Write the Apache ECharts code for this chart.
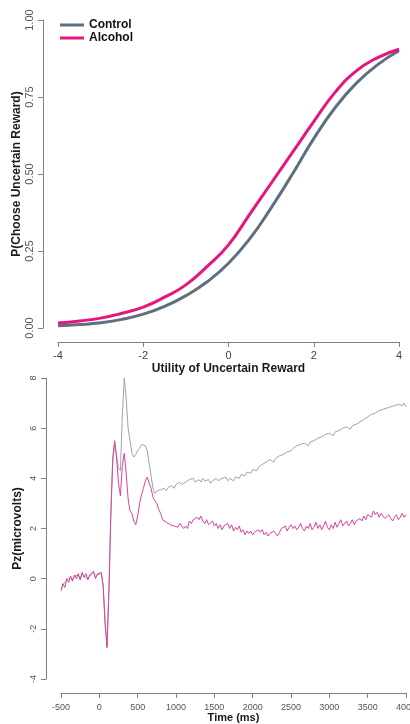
<!DOCTYPE html>
<html>
<head>
<meta charset="utf-8">
<script src="https://cdn.jsdelivr.net/npm/echarts@6/dist/echarts.min.js"></script>
<style>
  html, body { margin: 0; padding: 0; background: #fff; }
  #chart { width: 410px; height: 724px; }
</style>
</head>
<body>
<div id="chart"></div>
<script>
// top panel: choice curves
const UTILITY = [-4, -3.5, -3, -2.5, -2, -1.5, -1, -0.5, 0, 0.5, 1, 1.5, 2, 2.5, 3, 3.5, 4];
const CONTROL_P = [0.007, 0.011, 0.017, 0.028, 0.045, 0.07, 0.105, 0.15, 0.21, 0.29, 0.39, 0.5, 0.615, 0.715, 0.795, 0.855, 0.9];
const ALCOHOL_P = [0.016, 0.023, 0.032, 0.048, 0.068, 0.1, 0.14, 0.2, 0.27, 0.37, 0.47, 0.57, 0.67, 0.765, 0.835, 0.878, 0.905];

// bottom panel: Pz waveform
const TIME_MS = [
  -500, -475, -450, -425, -400, -375, -350, -325, -300, -275, -250, -225, -200, -175, -150, -125, -100, -75, -50, -25,
  0, 25, 50, 75, 100, 125, 150, 175, 200, 225, 250, 275, 300, 325, 350, 375, 400, 425, 450, 475,
  500, 525, 550, 575, 600, 625, 650, 675, 700, 725, 750, 775, 800, 825, 850, 875, 900, 925, 950, 975,
  1000, 1025, 1050, 1075, 1100, 1125, 1150, 1175, 1200, 1225, 1250, 1275, 1300, 1325, 1350, 1375, 1400, 1425, 1450, 1475,
  1500, 1525, 1550, 1575, 1600, 1625, 1650, 1675, 1700, 1725, 1750, 1775, 1800, 1825, 1850, 1875, 1900, 1925, 1950, 1975,
  2000, 2025, 2050, 2075, 2100, 2125, 2150, 2175, 2200, 2225, 2250, 2275, 2300, 2325, 2350, 2375, 2400, 2425, 2450, 2475,
  2500, 2525, 2550, 2575, 2600, 2625, 2650, 2675, 2700, 2725, 2750, 2775, 2800, 2825, 2850, 2875, 2900, 2925, 2950, 2975,
  3000, 3025, 3050, 3075, 3100, 3125, 3150, 3175, 3200, 3225, 3250, 3275, 3300, 3325, 3350, 3375, 3400, 3425, 3450, 3475,
  3500, 3525, 3550, 3575, 3600, 3625, 3650, 3675, 3700, 3725, 3750, 3775, 3800, 3825, 3850, 3875, 3900, 3925, 3950, 3975,
  4000
];
const CONTROL_PZ = [
  -0.5, -0.25, -0.3, -0.05, -0.1, 0.05, -0.05, 0.1, 0.05, 0.15, 0.0, 0.2, 0.1, 0.15, 0.0, 0.1, 0.15, 0.25, 0.05, 0.15,
  0.2, 0.2, -0.25, -1.7, -2.7, -0.4, 2.6, 4.7, 5.4, 4.9, 4.4, 4.3, 6.5, 8.0, 7.2, 6.0, 5.5, 5.0, 4.85, 4.95,
  5.1, 5.2, 5.35, 5.4, 5.3, 5.1, 4.6, 4.1, 3.6, 3.4, 3.5, 3.45, 3.55, 3.5, 3.6, 3.5, 3.65, 3.6, 3.7, 3.6,
  3.75, 3.7, 3.85, 3.75, 3.7, 3.85, 3.8, 3.95, 3.9, 4.0, 3.85, 3.8, 3.95, 3.85, 4.0, 3.9, 3.85, 3.95, 3.8, 3.9,
  3.85, 4.0, 3.9, 3.85, 4.0, 3.95, 4.05, 3.9, 4.0, 3.95, 3.9, 4.05, 4.1, 4.0, 4.15, 4.2, 4.1, 4.25, 4.3, 4.2,
  4.35, 4.4, 4.3, 4.45, 4.4, 4.55, 4.5, 4.65, 4.6, 4.75, 4.7, 4.65, 4.8, 4.75, 4.9, 4.85, 4.95, 4.9, 5.05, 5.0,
  5.1, 5.2, 5.15, 5.3, 5.25, 5.35, 5.3, 5.4, 5.35, 5.3, 5.45, 5.4, 5.5, 5.45, 5.6, 5.55, 5.65, 5.6, 5.75, 5.7,
  5.8, 5.75, 5.7, 5.85, 5.8, 5.9, 5.85, 6.0, 5.95, 6.05, 6.0, 5.95, 6.1, 6.05, 6.15, 6.1, 6.25, 6.2, 6.35, 6.3,
  6.45, 6.4, 6.55, 6.5, 6.6, 6.55, 6.7, 6.65, 6.75, 6.7, 6.8, 6.75, 6.85, 6.8, 6.9, 6.85, 6.95, 7.0, 6.9, 7.0,
  6.85
];
const ALCOHOL_PZ = [
  -0.45, -0.2, -0.35, 0.0, -0.15, 0.1, -0.1, 0.15, 0.0, 0.2, -0.05, 0.25, 0.05, 0.2, -0.05, 0.15, 0.1, 0.3, 0.0, 0.2,
  0.15, 0.25, -0.3, -1.8, -2.75, -0.5, 2.5, 4.8, 5.5, 4.8, 3.8, 3.3, 4.5, 5.0, 4.2, 3.2, 2.7, 2.6, 2.3, 2.15,
  2.5, 3.0, 3.35, 3.6, 3.9, 4.05, 3.8, 3.6, 3.25, 3.1, 3.0, 2.75, 2.6, 2.35, 2.4, 2.25, 2.3, 2.15, 2.2, 2.1,
  2.15, 2.05, 2.2, 2.1, 2.0, 2.1, 2.0, 2.3, 2.2, 2.35, 2.3, 2.45, 2.35, 2.5, 2.3, 2.2, 2.35, 2.15, 2.1, 2.3,
  2.1, 2.2, 2.0, 2.15, 1.95, 2.1, 2.05, 2.2, 2.0, 2.15, 1.9, 2.05, 1.95, 2.1, 1.85, 1.95, 1.75, 1.9, 1.8, 1.9,
  1.75, 1.85, 1.8, 1.95, 1.85, 1.95, 1.75, 1.85, 1.7, 1.8, 1.75, 1.9, 1.8, 1.7, 1.85, 2.0, 1.95, 2.1, 1.9, 2.05,
  2.15, 2.0, 2.1, 1.95, 2.05, 2.2, 2.0, 1.9, 2.1, 2.0, 2.2, 1.95, 2.05, 2.25, 2.0, 2.15, 1.95, 2.1, 2.3, 2.05,
  1.95, 2.15, 2.0, 2.25, 2.05, 2.2, 2.35, 2.1, 2.15, 2.3, 2.1, 2.2, 2.35, 2.15, 2.3, 2.25, 2.4, 2.3, 2.5, 2.35,
  2.55, 2.6, 2.45, 2.7, 2.55, 2.65, 2.45, 2.6, 2.5, 2.4, 2.35, 2.55, 2.4, 2.3, 2.45, 2.55, 2.35, 2.45, 2.6, 2.45,
  2.55
];

const FONT = '"Liberation Sans", Arial, sans-serif';
const AXIS_GREY = '#808080';

function rAxis(extra) {
  return Object.assign({
    type: 'value',
    splitLine: { show: false },
    axisLine: { show: true, onZero: false, lineStyle: { color: AXIS_GREY, width: 1 } },
    axisTick: { show: true, length: 5, lineStyle: { color: AXIS_GREY } },
    nameLocation: 'middle',
    nameMoveOverlap: false,
    nameTextStyle: { fontFamily: FONT, fontWeight: 'bold', fontSize: 12, color: '#1a1a1a' }
  }, extra);
}

const chart = echarts.init(document.getElementById('chart'));

chart.setOption({
  animation: false,
  backgroundColor: '#fff',
  legend: {
    data: ['Control', 'Alcohol'],
    orient: 'vertical',
    left: 55,
    top: 14,
    icon: 'rect',
    itemWidth: 24,
    itemHeight: 3,
    itemGap: 1,
    textStyle: { fontFamily: FONT, fontWeight: 'bold', fontSize: 12, color: '#111' }
  },
  grid: [
    { left: 58, right: 11, top: 20, bottom: 396, outerBoundsMode: 'none' },
    { left: 61, right: 4, top: 378, bottom: 45, outerBoundsMode: 'none' }
  ],
  xAxis: [
    rAxis({
      gridIndex: 0, min: -4, max: 4, interval: 2, offset: 14,
      axisLabel: { fontFamily: FONT, fontSize: 11, color: '#444', margin: 8 },
      name: 'Utility of Uncertain Reward', nameGap: 21
    }),
    rAxis({
      gridIndex: 1, min: -500, max: 4000, interval: 500, offset: 14,
      axisLabel: { fontFamily: FONT, fontSize: 9, color: '#555', margin: 10, formatter: v => String(v) },
      name: 'Time (ms)', nameGap: 19,
      nameTextStyle: { fontFamily: FONT, fontWeight: 'bold', fontSize: 11, color: '#1a1a1a' }
    })
  ],
  yAxis: [
    rAxis({
      gridIndex: 0, min: 0, max: 1, interval: 0.25, offset: 15,
      axisLabel: { fontFamily: FONT, fontSize: 11, color: '#555', rotate: 90, margin: 8,
        formatter: v => v.toFixed(2) },
      name: 'P(Choose Uncertain Reward)', nameGap: 20
    }),
    rAxis({
      gridIndex: 1, min: -4, max: 8, interval: 2, offset: 15,
      axisLabel: { fontFamily: FONT, fontSize: 9, color: '#555', rotate: 90, margin: 8 },
      name: 'Pz(microvolts)', nameGap: 22
    })
  ],
  series: [
    {
      name: 'Control', type: 'line', xAxisIndex: 0, yAxisIndex: 0,
      smooth: true, showSymbol: false, color: '#5d7080',
      lineStyle: { width: 3, color: '#5d7080' },
      data: UTILITY.map((u, i) => [u, CONTROL_P[i]])
    },
    {
      name: 'Alcohol', type: 'line', xAxisIndex: 0, yAxisIndex: 0,
      smooth: true, showSymbol: false, color: '#e8157c',
      lineStyle: { width: 3, color: '#e8157c' },
      data: UTILITY.map((u, i) => [u, ALCOHOL_P[i]])
    },
    {
      name: 'Control', type: 'line', xAxisIndex: 1, yAxisIndex: 1,
      showSymbol: false, color: '#a0a3ab',
      lineStyle: { width: 1, color: '#a0a3ab' },
      data: TIME_MS.map((t, i) => [t, CONTROL_PZ[i]])
    },
    {
      name: 'Alcohol', type: 'line', xAxisIndex: 1, yAxisIndex: 1,
      showSymbol: false, color: '#d8449a',
      lineStyle: { width: 1, color: '#d8449a' },
      data: TIME_MS.map((t, i) => [t, ALCOHOL_PZ[i]])
    }
  ]
});
</script>
</body>
</html>
